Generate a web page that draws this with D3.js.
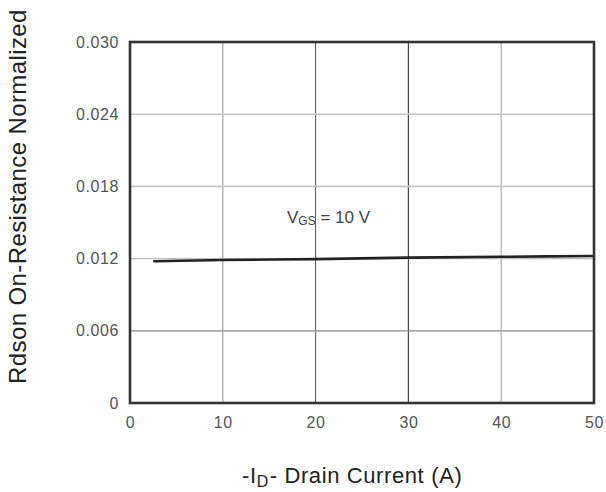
<!DOCTYPE html>
<html>
<head>
<meta charset="utf-8">
<script src="https://cdn.jsdelivr.net/npm/d3@7"></script>
<style>
  body { margin: 0; background: #fff; }
</style>
</head>
<body>
<script>
// data
const currentA = [2.5, 10, 20, 30, 40, 50];
const rdsonNorm = [0.01178, 0.01188, 0.01196, 0.01208, 0.01215, 0.01222];
const xTicks = [0, 10, 20, 30, 40, 50];
const yTicks = [0, 0.006, 0.012, 0.018, 0.024, 0.030];
const yTickLabels = ["0", "0.006", "0.012", "0.018", "0.024", "0.030"];

const canvWidth = 606, canvHeight = 492;
const svg = d3.select("body").append("svg")
    .attr("width", canvWidth)
    .attr("height", canvHeight);

const font = "'Liberation Sans', Arial, sans-serif";

// plot area
const plotLeft = 130, plotRight = 594, plotTop = 42, plotBottom = 403;

const xScale = d3.scaleLinear().domain([0, 50]).range([plotLeft, plotRight]);
const yScale = d3.scaleLinear().domain([0, 0.03]).range([plotBottom, plotTop]);

// grid (scanned chart has lines of different darkness)
const vGridStyle = {10: ["#bdbdbd", 1.6], 20: ["#555", 1], 30: ["#444", 1.2], 40: ["#bdbdbd", 1.4]};
const hGridStyle = {0.006: ["#8a8a8a", 1.2], 0.012: ["#bdbdbd", 1.4], 0.018: ["#c4c4c4", 1.6], 0.024: ["#c4c4c4", 1.6]};

svg.append("g").selectAll("line")
    .data(xTicks.filter(d => d > 0 && d < 50))
    .enter().append("line")
    .attr("x1", d => xScale(d)).attr("x2", d => xScale(d))
    .attr("y1", plotTop).attr("y2", plotBottom)
    .attr("stroke", d => vGridStyle[d][0])
    .attr("stroke-width", d => vGridStyle[d][1]);

svg.append("g").selectAll("line")
    .data(yTicks.filter(d => d > 0 && d < 0.03))
    .enter().append("line")
    .attr("x1", plotLeft).attr("x2", plotRight)
    .attr("y1", d => yScale(d)).attr("y2", d => yScale(d))
    .attr("stroke", d => hGridStyle[d][0])
    .attr("stroke-width", d => hGridStyle[d][1]);

// curve
const line = d3.line()
    .x((d, i) => xScale(currentA[i]))
    .y(d => yScale(d))
    .curve(d3.curveMonotoneX);

svg.append("path")
    .datum(rdsonNorm)
    .attr("d", line)
    .attr("fill", "none")
    .attr("stroke", "#222")
    .attr("stroke-width", 2.6);

// frame
svg.append("rect")
    .attr("x", plotLeft).attr("y", plotTop)
    .attr("width", plotRight - plotLeft).attr("height", plotBottom - plotTop)
    .attr("fill", "none")
    .attr("stroke", "#333")
    .attr("stroke-width", 2.6);

// x axis labels
const xAxis = d3.axisBottom(xScale).tickValues(xTicks).tickSize(0).tickPadding(14);
const gx = svg.append("g")
    .attr("transform", "translate(0," + plotBottom + ")")
    .call(xAxis);
gx.select(".domain").remove();
gx.selectAll("text")
    .attr("font-family", font)
    .attr("font-size", "16px")
    .attr("letter-spacing", "0.6px")
    .attr("fill", "#555");

// y axis labels
const yAxis = d3.axisLeft(yScale).tickValues(yTicks).tickSize(0).tickPadding(11)
    .tickFormat((d, i) => yTickLabels[i]);
const gy = svg.append("g")
    .attr("transform", "translate(" + plotLeft + ",0)")
    .call(yAxis);
gy.select(".domain").remove();
gy.selectAll("text")
    .attr("font-family", font)
    .attr("font-size", "16px")
    .attr("letter-spacing", "0.6px")
    .attr("fill", "#555");

// annotation
const ann = svg.append("text")
    .attr("x", 287)
    .attr("y", 223)
    .attr("font-family", font)
    .attr("font-size", "17px")
    .attr("fill", "#444");
ann.append("tspan").text("V");
ann.append("tspan").attr("font-size", "12px").attr("dy", 2).text("GS");
ann.append("tspan").attr("dy", -2).text(" = 10 V");

// axis titles
const xt = svg.append("text")
    .attr("x", 242)
    .attr("y", 483)
    .attr("font-family", font)
    .attr("font-size", "22px")
    .attr("letter-spacing", "0.6px")
    .attr("fill", "#222");
xt.append("tspan").text("-I");
xt.append("tspan").attr("font-size", "16px").attr("dy", 4).text("D");
xt.append("tspan").attr("dy", -4).attr("dx", 1).text("- Drain Current");
xt.append("tspan").attr("dx", 7).text("(A)");

svg.append("text")
    .attr("transform", "translate(25.5,384) rotate(-90)")
    .attr("font-family", font)
    .attr("font-size", "24px")
    .attr("letter-spacing", "0.4px")
    .attr("fill", "#222")
    .text("Rdson On-Resistance Normalized");
</script>
</body>
</html>
